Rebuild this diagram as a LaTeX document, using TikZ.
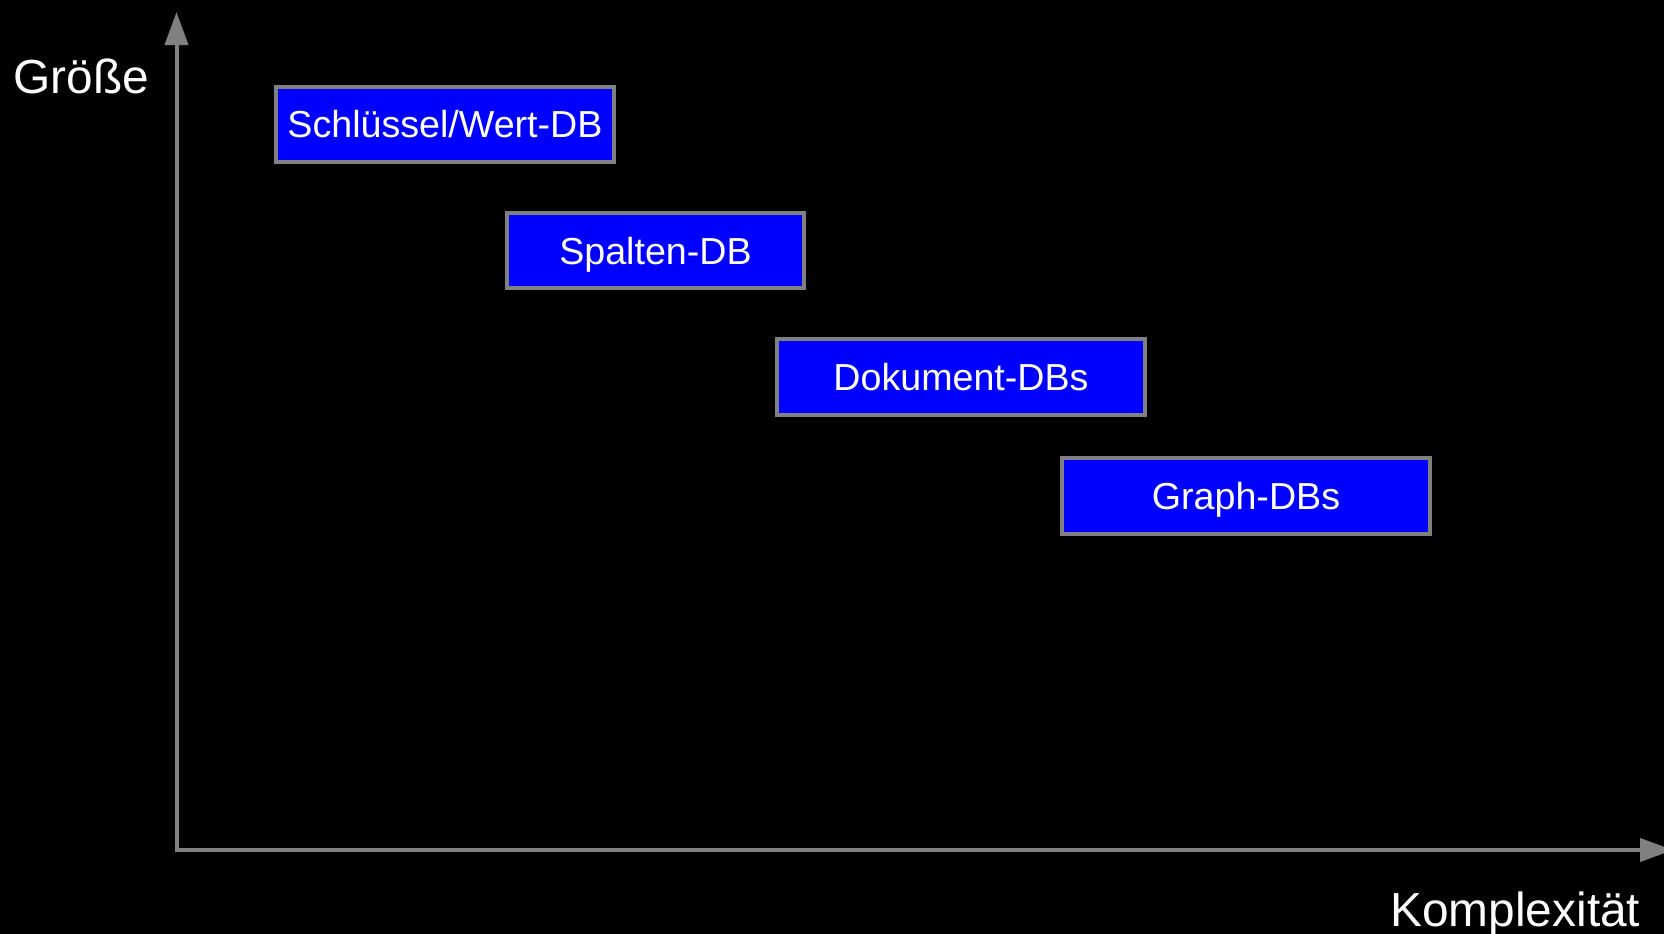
\documentclass[tikz,border=0pt]{standalone}
\usepackage{fontspec}
\setmainfont{Liberation Sans}
\usetikzlibrary{arrows.meta}
\definecolor{axisgray}{HTML}{808080}
\definecolor{dbblue}{HTML}{0000FF}

\begin{document}
\begin{tikzpicture}[x=0.01cm,y=-0.01cm,>={Triangle[length=0.33cm,width=0.23cm]},
	db node/.style={rectangle,inner sep=0pt,fill=dbblue,draw=axisgray,line width=0.04cm,
		text=white,font=\fontsize{10.7pt}{12pt}\selectfont,
		text height=0.27cm,text depth=0pt,minimum height=0.75cm},
	axis label/.style={inner sep=0pt,text=white,font=\fontsize{13.6pt}{16pt}\selectfont},
	axis/.style={draw=axisgray,line width=0.04cm}]

    \useasboundingbox (0,0) rectangle (1664,934);
    \fill[black] (0,0) rectangle (1664,934);

    % axes
    \coordinate (O) at (176.5,850);
    \coordinate (ytop) at (176.5,12);
    \coordinate (xend) at (1673,850);
    \draw[axis,<->] (ytop) -- (O) -- (xend);
    \node[axis label,anchor=base west] (ylabel) at (13,94) {Größe};
    \node[axis label,anchor=base east] (xlabel) at (1641,926) {Komplexität};

    % database kinds
    \node[db node,minimum width=3.38cm] (KV) at (445,124.5) {Schlüssel/Wert-DB};
    \node[db node,minimum width=2.97cm] (SP) at (655.5,250.5) {Spalten-DB};
    \node[db node,minimum width=3.68cm] (DOK) at (961,377) {Dokument-DBs};
    \node[db node,minimum width=3.68cm] (GR) at (1246,496) {Graph-DBs};

\end{tikzpicture}
\end{document}
